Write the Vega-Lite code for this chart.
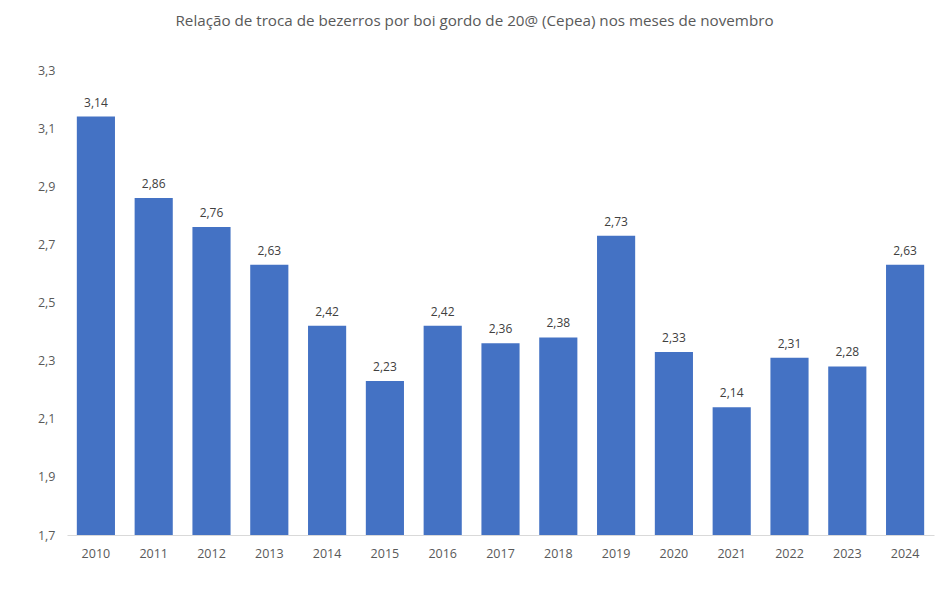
{
  "$schema": "https://vega.github.io/schema/vega-lite/v6.json",
  "autosize": "none",
  "width": 867,
  "height": 465,
  "padding": {"left": 67, "top": 70, "right": 14, "bottom": 54},
  "background": "white",
  "config": {
    "locale": {"number": {"decimal": ",", "thousands": ".", "grouping": [3], "currency": ["R$", ""]}},
    "view": {"stroke": null},
    "font": "Open Sans"
  },
  "title": {
    "text": "Relação de troca de bezerros por boi gordo de 20@ (Cepea) nos meses de novembro",
    "fontSize": 15.2,
    "fontWeight": "normal",
    "color": "#595959",
    "anchor": "middle",
    "dx": -26,
    "offset": 35,
    "font": "Open Sans"
  },
  "data": {
    "values": [
      {"ano": "2010", "valor": 3.14},
      {"ano": "2011", "valor": 2.86},
      {"ano": "2012", "valor": 2.76},
      {"ano": "2013", "valor": 2.63},
      {"ano": "2014", "valor": 2.42},
      {"ano": "2015", "valor": 2.23},
      {"ano": "2016", "valor": 2.42},
      {"ano": "2017", "valor": 2.36},
      {"ano": "2018", "valor": 2.38},
      {"ano": "2019", "valor": 2.73},
      {"ano": "2020", "valor": 2.33},
      {"ano": "2021", "valor": 2.14},
      {"ano": "2022", "valor": 2.31},
      {"ano": "2023", "valor": 2.28},
      {"ano": "2024", "valor": 2.63}
    ]
  },
  "encoding": {
    "x": {
      "field": "ano",
      "type": "nominal",
      "scale": {"paddingInner": 0.34, "paddingOuter": 0.17},
      "axis": {
        "title": null,
        "labelAngle": 0,
        "ticks": false,
        "domainColor": "#d9d9d9",
        "labelColor": "#595959",
        "labelFontSize": 12.5,
        "labelPadding": 12,
        "labelFont": "Open Sans"
      }
    },
    "y": {
      "field": "valor",
      "type": "quantitative",
      "scale": {"domain": [1.7, 3.3], "nice": false, "zero": false},
      "axis": {
        "title": null,
        "values": [1.7, 1.9, 2.1, 2.3, 2.5, 2.7, 2.9, 3.1, 3.3],
        "format": ".1f",
        "grid": false,
        "domain": false,
        "ticks": false,
        "labelColor": "#595959",
        "labelFontSize": 12.5,
        "labelPadding": 12,
        "labelFont": "Open Sans"
      }
    }
  },
  "layer": [
    {
      "mark": {"type": "bar", "color": "#4472c4"},
      "encoding": {"y2": {"datum": 1.7}}
    },
    {
      "mark": {"type": "text", "baseline": "bottom", "dy": -7, "fontSize": 12, "color": "#404040", "font": "Open Sans"},
      "encoding": {"text": {"field": "valor", "type": "quantitative", "format": ".2f"}}
    }
  ]
}
